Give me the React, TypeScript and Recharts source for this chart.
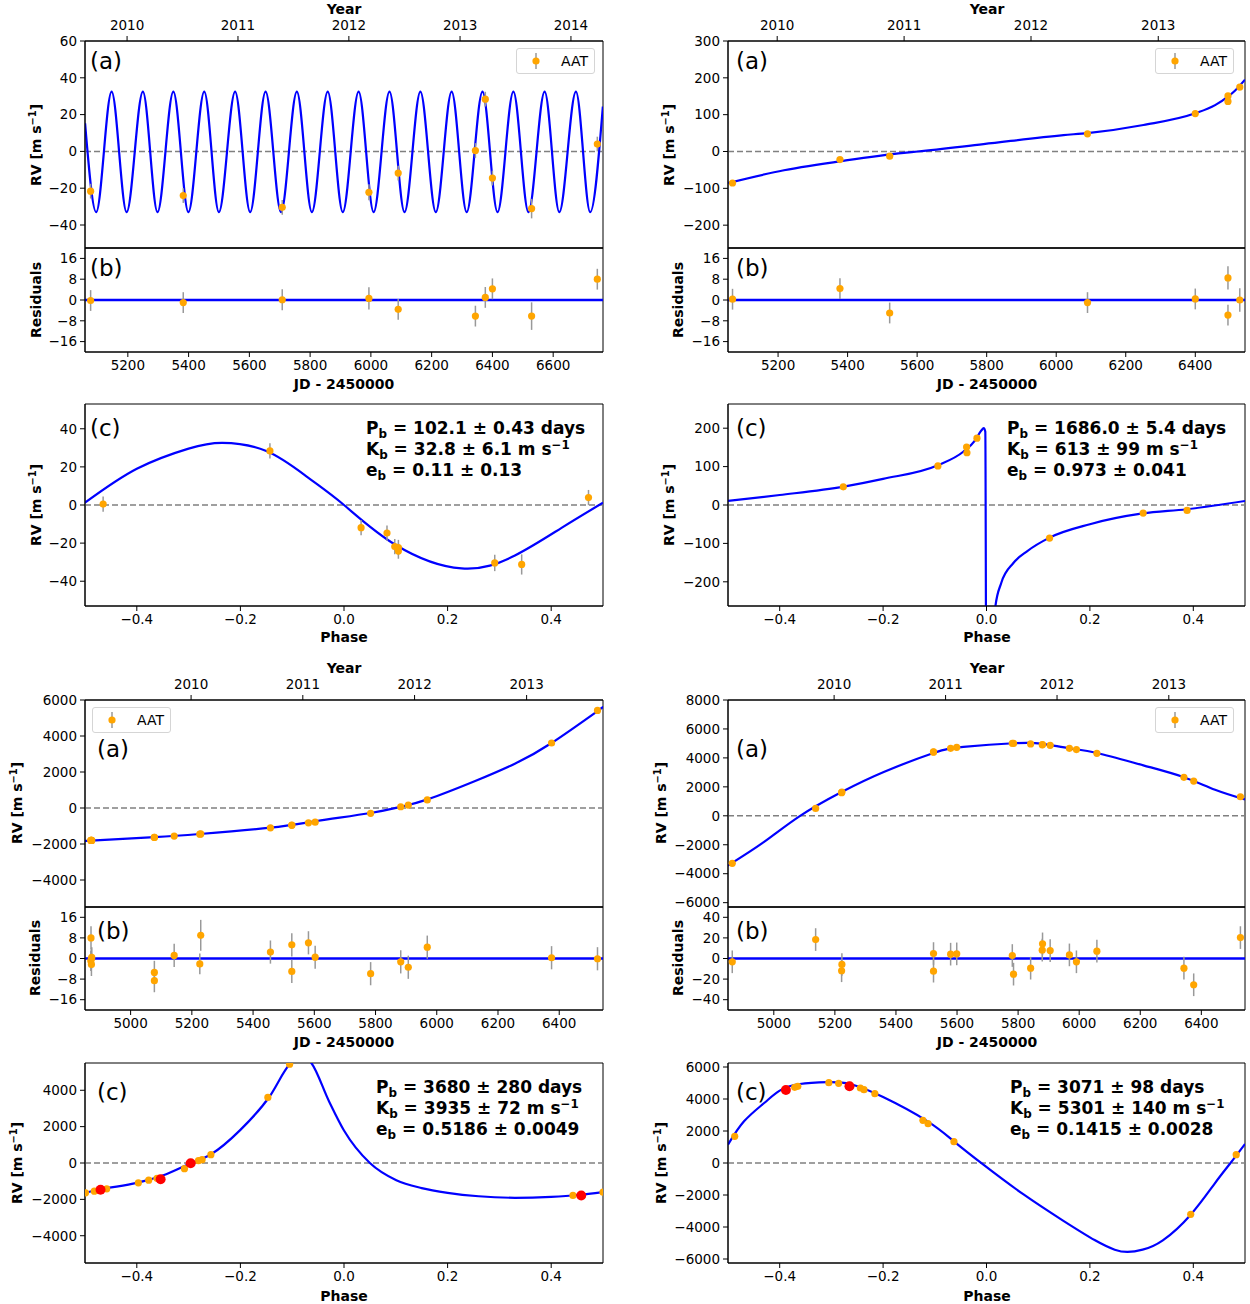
import React from 'react';
import {
  ComposedChart,
  Line,
  Scatter,
  XAxis,
  YAxis,
  ReferenceLine,
  ReferenceArea,
  ErrorBar,
} from 'recharts';

const FONT = '"DejaVu Sans", Verdana, sans-serif';

// shared ticks
const phaseTicks = [-0.4, -0.2, 0, 0.2, 0.4];
const resTicks = [-16, -8, 0, 8, 16];
const years4 = ['2010', '2011', '2012', '2013'];
const yearJd4 = [5197.5, 5562.5, 5927.5, 6293.5];
const jdTicksLow = [5000, 5200, 5400, 5600, 5800, 6000, 6200, 6400];

// ---- system 1 (P = 102.1 d)
const s1Years = ['2010', '2011', '2012', '2013', '2014'];
const s1YearJd = [5197.5, 5562.5, 5927.5, 6293.5, 6658.5];
const s1JdTicks = [5200, 5400, 5600, 5800, 6000, 6200, 6400, 6600];
const s1RvTicks = [-40, -20, 0, 20, 40, 60];
const s1PhTicks = [-40, -20, 0, 20, 40];
const s1Jd = [5077.5, 5382.4, 5708.2, 5993.5, 6089.9, 6344.0, 6376.6, 6400.0, 6529.0, 6745.3];
const s1Rv = [-21.6, -24.0, -30.4, -22.2, -11.8, 0.5, 28.4, -14.5, -31.1, 4.0];
const s1Res = [-0.2, -1.0, 0.1, 0.6, -3.6, -6.2, 1.0, 4.3, -6.2, 8.0];
const s1Err = [4, 4, 4, 4.3, 4, 4, 4, 4, 5.3, 4];
const s1ModelJd = [
  5059.3, 5095.8, 5146.6, 5196.0, 5249.5, 5297.7, 5349.8, 5399.3, 5451.5, 5499.7, 5553.1, 5602.6,
  5653.4, 5704.2, 5756.3, 5805.8, 5857.9, 5907.5, 5959.6, 6009.1, 6061.2, 6110.7, 6162.9, 6213.7,
  6265.8, 6315.3, 6367.4, 6416.9, 6469.0, 6518.6, 6571.9, 6620.2, 6674.9, 6721.8, 6763.5,
];
const s1ModelRv = [
  15.3, -33, 32.5, -33, 32.5, -33, 32.5, -33, 32.5, -33, 32.5, -33, 32.5, -33, 32.5, -33, 32.5, -33,
  32.5, -33, 32.5, -33, 32.5, -33, 32.5, -33, 32.5, -33, 32.5, -33, 32.5, -33, 32.5, -33, 24.4,
];
const s1Phase = [-0.465, -0.143, 0.033, 0.083, 0.098, 0.105, 0.105, 0.291, 0.343, 0.472];
const s1PhaseRv = [0.5, 28.4, -11.9, -14.7, -21.8, -22.3, -24.2, -30.4, -31.2, 3.9];
const s1PhaseErr = [4, 4, 4, 4, 4, 4, 4, 4.3, 5.3, 4];
const s1PhModelX = [-0.5, -0.4, -0.3, -0.235, -0.15, -0.07, 0, 0.1, 0.227, 0.33, 0.42, 0.5];
const s1PhModelY = [1.2, 19, 29.6, 32.6, 28.3, 14.5, 0, -21, -33.3, -26.5, -12, 1.2];

// ---- system 2 (P = 1686 d)
const s2JdTicks = [5200, 5400, 5600, 5800, 6000, 6200, 6400];
const s2RvTicks = [-200, -100, 0, 100, 200, 300];
const s2PhTicks = [-200, -100, 0, 100, 200];
const s2Jd = [5069, 5378, 5521, 6090, 6400, 6494, 6494, 6528];
const s2Rv = [-85.5, -21.8, -12.7, 48, 103, 151, 136, 175];
const s2Res = [0.3, 4.4, -5.0, -1.0, 0.4, 8.5, -5.8, 0];
const s2Err = [4, 4, 4, 4, 4, 4.5, 4, 4.5];
const s2ModelJd = [5056.5, 5217, 5395, 5562, 5602, 5791, 6021, 6090, 6251, 6400, 6457, 6494, 6514, 6543];
const s2ModelRv = [-85.5, -51, -24, -3.6, 0, 20, 44.5, 50, 72, 103.6, 126, 149, 165, 195];
const s2Phase = [-0.277, -0.094, -0.0385, -0.0378, -0.0185, 0.122, 0.303, 0.388];
const s2PhaseRv = [47.4, 101.8, 151, 136, 174, -86, -21, -14];
const s2PhaseErr = [4, 4, 4.5, 4, 4.5, 4, 4, 4];
const s2PhModelX = [
  -0.5, -0.4, -0.276, -0.2, -0.094, -0.045, -0.0216, -0.01, -0.0054, -0.0023, 0.0, 0.006, 0.017,
  0.0285, 0.052, 0.079, 0.122, 0.2, 0.302, 0.387, 0.5,
];
const s2PhModelY = [
  10.5, 26, 48, 68, 103.5, 138.6, 169, 194, 200, 191, -700, -560, -266, -203, -151, -120, -85, -50,
  -22, -11, 10.5,
];

// ---- system 3 (P = 3680 d)
const s3RvTicks = [-4000, -2000, 0, 2000, 4000, 6000];
const s3PhTicks = [-4000, -2000, 0, 2000, 4000];
const s3Jd = [
  4870.6, 4872, 4873, 4870, 4872, 5077.6, 5077.6, 5142.3, 5229, 5226, 5456.7, 5526.5, 5526.5, 5580.9,
  5602.8, 5784, 5882.3, 5907, 5969, 6375, 6525,
];
const s3Rv = [
  -1792, -1800, -1799, -1802, -1804, -1630, -1633, -1560, -1440, -1452, -1100, -950, -960, -825, -790,
  -296, 70, 160, 450, 3610, 5420,
];
const s3Res = [
  8.0, 0.0, 0.4, -0.9, -2.3, -5.4, -8.6, 1.2, 9.0, -2.1, 2.5, 5.3, -5.0, 6.1, 0.5, -5.9, -1.3, -3.4,
  4.4, 0.3, -0.1,
];
const s3Err = [
  4.5, 4, 4, 4, 4.5, 4.5, 4.5, 4.5, 6, 4, 4.5, 4.5, 4.5, 4.5, 4.5, 4.5, 4.5, 4.5, 4.5, 4.5, 4.5,
];
const s3ModelJd = [4851, 4870.6, 5077.6, 5226, 5456.7, 5608, 5784, 5880, 5970, 6125.5, 6255, 6375, 6527, 6543];
const s3ModelRv = [-1820, -1810, -1620, -1444, -1093, -722, -278, 56, 481, 1500, 2460, 3610, 5407, 5593];
const s3Phase = [-0.499, -0.482, -0.458, -0.397, -0.377, -0.361, -0.308, -0.281, -0.274, -0.257, -0.147, -0.105, 0.442, 0.5];
const s3PhaseRv = [-1640, -1550, -1420, -1093, -947, -838, -310, 128, 182, 456, 3607, 5430, -1785, -1603];
const s3RedPhase = [-0.47, -0.354, -0.296, 0.458];
const s3RedRv = [-1476, -893, -18, -1785];
const s3PhModelX = [
  -0.5, -0.472, -0.4, -0.35, -0.296, -0.258, -0.2, -0.144, -0.105, -0.083, -0.063, -0.029, 0.0, 0.05,
  0.101, 0.15, 0.2, 0.26, 0.33, 0.4, 0.452, 0.5,
];
const s3PhModelY = [
  -1640, -1458, -1093, -692, -18, 456, 1822, 3644, 5430, 5950, 5500, 3400, 1790, 0, -947, -1380,
  -1640, -1830, -1913, -1860, -1760, -1603,
];

// ---- system 4 (P = 3071 d)
const s4RvTicks = [-6000, -4000, -2000, 0, 2000, 4000, 6000, 8000];
const s4ResTicks = [-40, -20, 0, 20, 40];
const s4PhTicks = [-6000, -4000, -2000, 0, 2000, 4000, 6000];
const s4Jd = [
  4864, 5137, 5223, 5222, 5523, 5523, 5579, 5599, 5781, 5785, 5841, 5880, 5879, 5905, 5968, 5991,
  6058, 6343, 6375, 6528,
];
const s4Rv = [
  -3280, 508, 1640, 1600, 4410, 4400, 4664, 4733, 5011, 5000, 4965, 4918, 4900, 4872, 4664, 4572,
  4318, 2655, 2401, 1316,
];
const s4Res = [
  -3.2, 18.4, -5.8, -11.9, 4.8, -12.3, 4.2, 4.5, 2.9, -15.2, -9.4, 14.2, 8.1, 7.7, 3.5, -3.2, 7.1,
  -9.4, -25.5, 20.3,
];
const s4Err = [11, 11, 11, 11, 11, 11, 11, 11, 11, 11, 11, 11, 11, 11, 11, 11, 11, 11, 11, 11];
const s4ModelJd = [4849.6, 4967, 5085, 5222, 5360, 5523, 5621, 5785, 5876, 5968, 6059, 6210, 6341, 6445, 6543];
const s4ModelRv = [-3440, -1824, -23, 1640, 3025, 4341, 4757, 5011, 4988, 4664, 4341, 3487, 2679, 1801, 1131];
const s4Phase = [-0.487, -0.371, -0.365, -0.305, -0.286, -0.265, -0.244, -0.237, -0.216, -0.123, -0.113, -0.063, 0.395, 0.483];
const s4PhaseRv = [1667, 4729, 4790, 5020, 4980, 4850, 4687, 4583, 4333, 2667, 2458, 1333, -3208, 521];
const s4RedPhase = [-0.388, -0.265];
const s4RedRv = [4562, 4792];
const s4PhModelX = [
  -0.5, -0.469, -0.43, -0.4, -0.361, -0.307, -0.264, -0.2, -0.114, -0.063, -0.006,
  0.071, 0.148, 0.21, 0.248, 0.273, 0.302, 0.341, 0.395, 0.441, 0.472, 0.5,
];
const s4PhModelY = [
  1146, 2604, 3750, 4520, 4937, 5050, 4937, 4120, 2604, 1354, -104, -1950, -3600, -4833,
  -5417, -5560, -5417, -4833, -3229, -1300, 0, 1187,
];

type Pt = { x: number; y: number; err: number };
type Curve = 'monotone' | 'natural';

const pts = (xs: number[], ys: number[], es?: number[]): Pt[] =>
  xs.map((x, i) => ({ x, y: ys[i], err: es ? es[i] : 0 }));

const fmtNum = (v: number) => (v < 0 ? '\u2212' + Math.abs(v) : String(v));
const fmtPhase = (v: number) => (v < 0 ? '\u2212' : '') + Math.abs(v).toFixed(1);

const orangeDot = (props: any) => <circle cx={props.cx} cy={props.cy} r={3.6} fill="#ffa500" />;
const redDot = (props: any) => <circle cx={props.cx} cy={props.cy} r={5} fill="#ff0000" />;

interface PanelProps {
  left: number;
  top: number;
  w: number;
  h: number;
  xDomain: [number, number];
  yDomain: [number, number];
  xTicks: number[];
  yTicks: number[];
  xFmt?: (v: number) => string;
  showXLabels?: boolean;
  yearJd?: number[];
  years?: string[];
  model?: Pt[];
  curve?: Curve;
  points: Pt[];
  red?: Pt[];
  residual?: boolean;
}

function Panel(p: PanelProps) {
  const topH = p.yearJd ? 40 : 10;
  const tickStyle = { fontSize: 13.5, fill: '#000', fontFamily: FONT };
  const scatterAxis = p.yearJd ? 'yr' : 0;
  return (
    <div style={{ position: 'absolute', left: p.left - 80, top: p.top - topH }}>
      <ComposedChart
        width={p.w + 90}
        height={p.h + topH + 30}
        margin={{ top: p.yearJd ? 0 : 10, right: 10, bottom: 0, left: 0 }}
        style={{ fontFamily: FONT }}
      >
        <XAxis
          dataKey="x"
          type="number"
          domain={p.xDomain}
          allowDataOverflow
          ticks={p.xTicks}
          interval={0}
          tickFormatter={p.xFmt || fmtNum}
          tick={p.showXLabels ? tickStyle : false}
          tickSize={5}
          tickMargin={3}
          height={30}
          stroke="#000"
        />
        {p.yearJd && (
          <XAxis
            xAxisId="yr"
            orientation="top"
            dataKey="x"
            type="number"
            domain={p.xDomain}
            allowDataOverflow
            ticks={p.yearJd}
            interval={0}
            tickFormatter={(_v: number, i: number) => (p.years ? p.years[i] : '')}
            tick={tickStyle}
            tickSize={5}
            tickMargin={6}
            height={40}
            stroke="#000"
          />
        )}
        <YAxis
          dataKey="y"
          type="number"
          domain={p.yDomain}
          allowDataOverflow
          ticks={p.yTicks}
          interval={0}
          tickFormatter={fmtNum}
          tick={tickStyle}
          tickSize={5}
          tickMargin={3}
          width={80}
          stroke="#000"
        />
        {p.residual ? (
          <ReferenceLine y={0} stroke="#0000ff" strokeWidth={2.5} />
        ) : (
          <ReferenceLine y={0} stroke="#808080" strokeWidth={1.5} strokeDasharray="6 3" />
        )}
        {p.model && (
          <Line
            data={p.model}
            dataKey="y"
            type={p.curve || 'monotone'}
            stroke="#0000ff"
            strokeWidth={2.2}
            dot={false}
            activeDot={false}
            isAnimationActive={false}
          />
        )}
        <Scatter xAxisId={scatterAxis} data={p.points} dataKey="y" shape={orangeDot} isAnimationActive={false}>
          <ErrorBar dataKey="err" direction="y" width={0} stroke="#999" strokeWidth={1.5} isAnimationActive={false} />
        </Scatter>
        {p.red && <Scatter data={p.red} dataKey="y" shape={redDot} isAnimationActive={false} />}
        <ReferenceArea
          x1={p.xDomain[0]}
          x2={p.xDomain[1]}
          y1={p.yDomain[0]}
          y2={p.yDomain[1]}
          fill="none"
          fillOpacity={0}
          stroke="#000"
          strokeWidth={1}
        />
      </ComposedChart>
    </div>
  );
}

const supStyle: React.CSSProperties = { fontSize: '70%', verticalAlign: '0.5em', lineHeight: 0 };
const subStyle: React.CSSProperties = { fontSize: '70%', verticalAlign: '-0.3em', lineHeight: 0 };

function Txt({ x, y, rotate, children }: { x: number; y: number; rotate?: boolean; children: React.ReactNode }) {
  return (
    <div
      style={{
        position: 'absolute',
        left: x,
        top: y,
        transform: `translate(-50%, -50%)${rotate ? ' rotate(-90deg)' : ''}`,
        whiteSpace: 'nowrap',
        fontWeight: 'bold',
        fontSize: 14,
        lineHeight: '16px',
        fontFamily: FONT,
      }}
    >
      {children}
    </div>
  );
}

function Tag({ x, y, t }: { x: number; y: number; t: string }) {
  return (
    <div
      style={{
        position: 'absolute',
        left: x,
        top: y,
        transform: 'translateY(-50%)',
        fontSize: 23,
        lineHeight: '26px',
        fontFamily: FONT,
      }}
    >
      {t}
    </div>
  );
}

function Stats({ x, y, p, k, e }: { x: number; y: number; p: string; k: string; e: string }) {
  return (
    <div
      style={{
        position: 'absolute',
        left: x,
        top: y,
        fontSize: 17,
        lineHeight: '21px',
        fontWeight: 'bold',
        fontFamily: FONT,
        whiteSpace: 'nowrap',
      }}
    >
      <div>
        P<sub style={subStyle}>b</sub> = {p}
      </div>
      <div>
        K<sub style={subStyle}>b</sub> = {k} m s<sup style={supStyle}>{'\u22121'}</sup>
      </div>
      <div>
        e<sub style={subStyle}>b</sub> = {e}
      </div>
    </div>
  );
}

function AatLegend({ left, top }: { left: number; top: number }) {
  return (
    <div
      style={{
        position: 'absolute',
        left,
        top,
        width: 79,
        height: 26,
        boxSizing: 'border-box',
        border: '1px solid #d5d5d5',
        borderRadius: 3,
        background: 'rgba(255,255,255,0.85)',
        display: 'flex',
        alignItems: 'center',
        fontFamily: FONT,
        fontSize: 14,
      }}
    >
      <svg width={44} height={24}>
        <line x1={19} x2={19} y1={4} y2={20} stroke="#999" strokeWidth={1.5} />
        <circle cx={19} cy={12} r={3.6} fill="#ffa500" />
      </svg>
      <span>AAT</span>
    </div>
  );
}

const rvTitle = (
  <>
    RV [m s<sup style={supStyle}>{'\u22121'}</sup>]
  </>
);

export default function App() {
  const L = 85;
  const LW = 518;
  const R = 728;
  const RW = 517;
  return (
    <div
      style={{
        position: 'absolute',
        left: 0,
        top: 0,
        width: 1250,
        height: 1304,
        background: '#fff',
        fontFamily: FONT,
        overflow: 'hidden',
      }}
    >
      {/* system 1 */}
      <Panel left={L} top={41} w={LW} h={207} xDomain={[5059, 6764]} yDomain={[-52.5, 60]}
        xTicks={s1JdTicks} yTicks={s1RvTicks} yearJd={s1YearJd} years={s1Years}
        model={pts(s1ModelJd, s1ModelRv)} points={pts(s1Jd, s1Rv, s1Err)} />
      <Panel left={L} top={248} w={LW} h={104} xDomain={[5059, 6764]} yDomain={[-20, 20]}
        xTicks={s1JdTicks} yTicks={resTicks} showXLabels residual points={pts(s1Jd, s1Res, s1Err)} />
      <Panel left={L} top={404} w={LW} h={202} xDomain={[-0.5, 0.5]} yDomain={[-53, 53]}
        xTicks={phaseTicks} yTicks={s1PhTicks} xFmt={fmtPhase} showXLabels curve="natural"
        model={pts(s1PhModelX, s1PhModelY)} points={pts(s1Phase, s1PhaseRv, s1PhaseErr)} />

      {/* system 2 */}
      <Panel left={R} top={41} w={RW} h={207} xDomain={[5056, 6543]} yDomain={[-262, 300]}
        xTicks={s2JdTicks} yTicks={s2RvTicks} yearJd={yearJd4} years={years4}
        model={pts(s2ModelJd, s2ModelRv)} points={pts(s2Jd, s2Rv, s2Err)} />
      <Panel left={R} top={248} w={RW} h={104} xDomain={[5056, 6543]} yDomain={[-20, 20]}
        xTicks={s2JdTicks} yTicks={resTicks} showXLabels residual points={pts(s2Jd, s2Res, s2Err)} />
      <Panel left={R} top={404} w={RW} h={202} xDomain={[-0.5, 0.5]} yDomain={[-263, 263]}
        xTicks={phaseTicks} yTicks={s2PhTicks} xFmt={fmtPhase} showXLabels
        model={pts(s2PhModelX, s2PhModelY)} points={pts(s2Phase, s2PhaseRv, s2PhaseErr)} />

      {/* system 3 */}
      <Panel left={L} top={700} w={LW} h={207} xDomain={[4851, 6543]} yDomain={[-5500, 6000]}
        xTicks={jdTicksLow} yTicks={s3RvTicks} yearJd={yearJd4} years={years4} curve="natural"
        model={pts(s3ModelJd, s3ModelRv)} points={pts(s3Jd, s3Rv, s3Err)} />
      <Panel left={L} top={907} w={LW} h={103} xDomain={[4851, 6543]} yDomain={[-20, 20]}
        xTicks={jdTicksLow} yTicks={resTicks} showXLabels residual points={pts(s3Jd, s3Res, s3Err)} />
      <Panel left={L} top={1063} w={LW} h={200} xDomain={[-0.5, 0.5]} yDomain={[-5500, 5500]}
        xTicks={phaseTicks} yTicks={s3PhTicks} xFmt={fmtPhase} showXLabels
        model={pts(s3PhModelX, s3PhModelY)} points={pts(s3Phase, s3PhaseRv)} red={pts(s3RedPhase, s3RedRv)} />

      {/* system 4 */}
      <Panel left={R} top={700} w={RW} h={207} xDomain={[4850, 6543]} yDomain={[-6300, 8000]}
        xTicks={jdTicksLow} yTicks={s4RvTicks} yearJd={yearJd4} years={years4} curve="natural"
        model={pts(s4ModelJd, s4ModelRv)} points={pts(s4Jd, s4Rv, s4Err)} />
      <Panel left={R} top={907} w={RW} h={103} xDomain={[4850, 6543]} yDomain={[-50, 50]}
        xTicks={jdTicksLow} yTicks={s4ResTicks} showXLabels residual points={pts(s4Jd, s4Res, s4Err)} />
      <Panel left={R} top={1063} w={RW} h={200} xDomain={[-0.5, 0.5]} yDomain={[-6250, 6250]}
        xTicks={phaseTicks} yTicks={s4PhTicks} xFmt={fmtPhase} showXLabels curve="natural"
        model={pts(s4PhModelX, s4PhModelY)} points={pts(s4Phase, s4PhaseRv)} red={pts(s4RedPhase, s4RedRv)} />

      {/* axis titles */}
      <Txt x={344} y={9}>Year</Txt>
      <Txt x={344} y={384}>JD - 2450000</Txt>
      <Txt x={344} y={637}>Phase</Txt>
      <Txt x={36} y={145} rotate>{rvTitle}</Txt>
      <Txt x={36} y={300} rotate>Residuals</Txt>
      <Txt x={36} y={505} rotate>{rvTitle}</Txt>

      <Txt x={987} y={9}>Year</Txt>
      <Txt x={987} y={384}>JD - 2450000</Txt>
      <Txt x={987} y={637}>Phase</Txt>
      <Txt x={669} y={145} rotate>{rvTitle}</Txt>
      <Txt x={678} y={300} rotate>Residuals</Txt>
      <Txt x={669} y={505} rotate>{rvTitle}</Txt>

      <Txt x={344} y={668}>Year</Txt>
      <Txt x={344} y={1042}>JD - 2450000</Txt>
      <Txt x={344} y={1296}>Phase</Txt>
      <Txt x={17} y={803} rotate>{rvTitle}</Txt>
      <Txt x={35} y={958} rotate>Residuals</Txt>
      <Txt x={17} y={1163} rotate>{rvTitle}</Txt>

      <Txt x={987} y={668}>Year</Txt>
      <Txt x={987} y={1042}>JD - 2450000</Txt>
      <Txt x={987} y={1296}>Phase</Txt>
      <Txt x={661} y={803} rotate>{rvTitle}</Txt>
      <Txt x={678} y={958} rotate>Residuals</Txt>
      <Txt x={661} y={1163} rotate>{rvTitle}</Txt>

      {/* panel tags */}
      <Tag x={90} y={61} t="(a)" />
      <Tag x={90} y={268} t="(b)" />
      <Tag x={90} y={428} t="(c)" />
      <Tag x={736} y={61} t="(a)" />
      <Tag x={736} y={268} t="(b)" />
      <Tag x={736} y={428} t="(c)" />
      <Tag x={97} y={749} t="(a)" />
      <Tag x={97} y={931} t="(b)" />
      <Tag x={97} y={1092} t="(c)" />
      <Tag x={736} y={749} t="(a)" />
      <Tag x={736} y={931} t="(b)" />
      <Tag x={736} y={1092} t="(c)" />

      {/* fit parameters */}
      <Stats x={366} y={418} p="102.1 ± 0.43 days" k="32.8 ± 6.1" e="0.11 ± 0.13" />
      <Stats x={1007} y={418} p="1686.0 ± 5.4 days" k="613 ± 99" e="0.973 ± 0.041" />
      <Stats x={376} y={1077} p="3680 ± 280 days" k="3935 ± 72" e="0.5186 ± 0.0049" />
      <Stats x={1010} y={1077} p="3071 ± 98 days" k="5301 ± 140" e="0.1415 ± 0.0028" />

      {/* legends */}
      <AatLegend left={516} top={48} />
      <AatLegend left={1155} top={48} />
      <AatLegend left={92} top={707} />
      <AatLegend left={1155} top={707} />
    </div>
  );
}
